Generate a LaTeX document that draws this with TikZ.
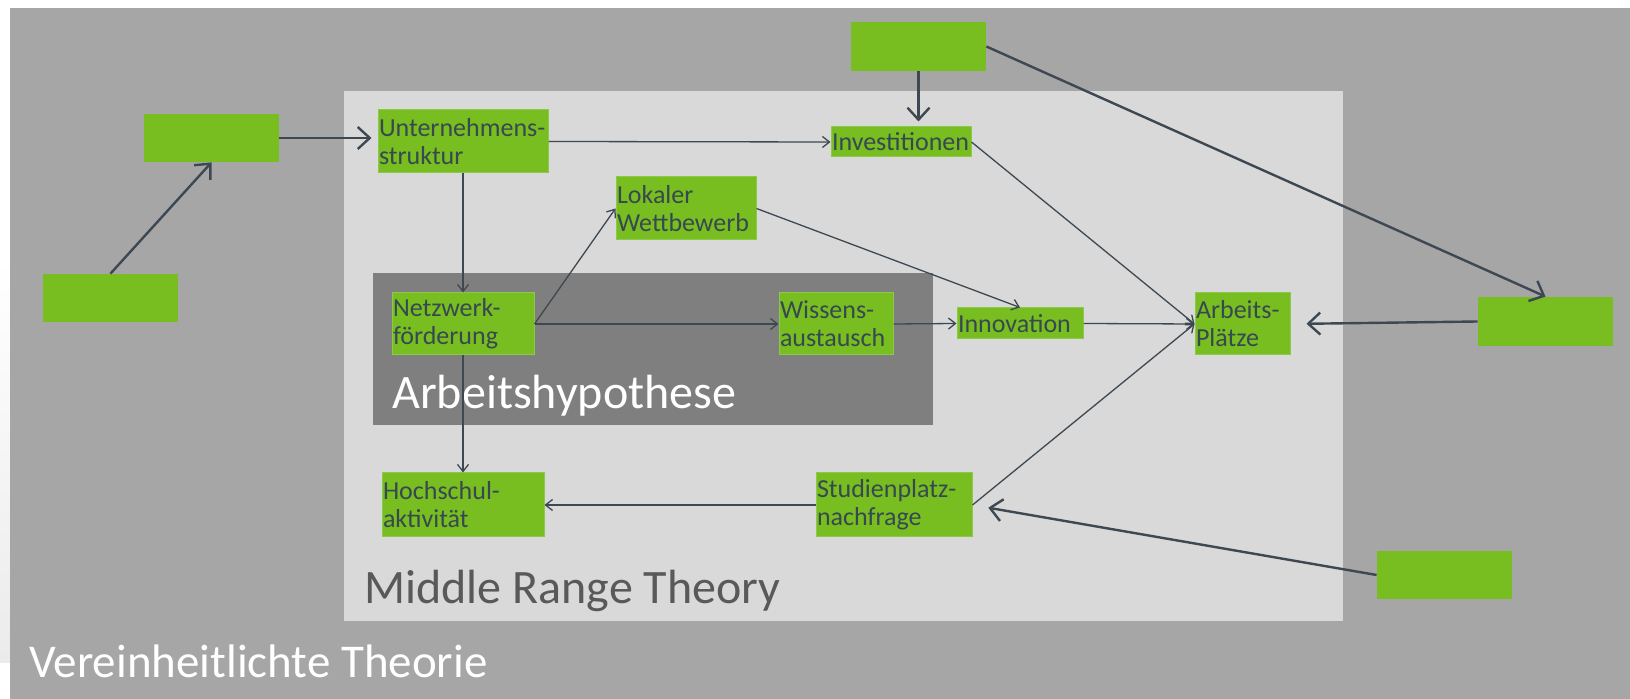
\documentclass[tikz,border=0pt]{standalone}
\usepackage{fontspec}
\setmainfont{Carlito}
\usetikzlibrary{arrows.meta}
\definecolor{outergray}{HTML}{A6A6A6}
\definecolor{midgray}{HTML}{D9D9D9}
\definecolor{hypgray}{HTML}{7F7F7F}
\definecolor{leaf}{HTML}{78BE20}
\definecolor{leafedge}{HTML}{8CC94A}
\definecolor{nodetext}{HTML}{374851}
\definecolor{linec}{HTML}{3D4852}
\definecolor{captiongray}{HTML}{595959}
\definecolor{stripgray}{HTML}{EBEBEB}
\begin{document}
\begin{tikzpicture}[x=0.5pt,y=-0.5pt,
  gbox/.style={rectangle, fill=leaf, draw=leafedge, line width=0.5pt,
    inner xsep=0.5pt, inner ysep=0pt, text=nodetext, align=left,
    font=\fontsize{13}{14}\selectfont},
  blank/.style={rectangle, fill=leaf, inner sep=0pt,
    minimum width=67.5pt, minimum height=24pt},
  thin/.style={draw=linec, line width=0.65pt,
    -{Straight Barb[length=3.5pt,width=5.5pt]}},
  thick/.style={draw=linec, line width=1.2pt,
    -{Straight Barb[length=6pt,width=11pt]}},
  caption/.style={anchor=base west, inner sep=0pt}]
\useasboundingbox (0,0) rectangle (1630,699);
% background layers
\fill[white] (0,0) rectangle (1630,699);
\shade[top color=white, bottom color=stripgray] (0,260) rectangle (10,663);
\fill[outergray] (10,8) rectangle (1630,699);
\fill[midgray] (344,91) rectangle (1343,621);
\fill[hypgray] (373,273) rectangle (933,425);

% frame captions
\node[caption, text=white, font=\fontsize{24}{28}\selectfont] (capH) at (392,409) {Arbeitshypothese};
\node[caption, text=captiongray, font=\fontsize{24}{28}\selectfont] (capM) at (364,604) {Middle Range Theory};
\node[caption, text=white, font=\fontsize{23.5}{28}\selectfont] (capV) at (29,678) {Vereinheitlichte Theorie};

% unlabeled outer factors
\node[blank] (bTL) at (211.5,138) {};
\node[blank] (bBL) at (110.5,298) {};
\node[blank, minimum height=24.5pt] (bTop) at (918.5,46.5) {};
\node[blank, minimum height=24.5pt] (bR) at (1545.5,321.5) {};
\node[blank] (bBR) at (1444.5,575) {};

% labeled factors
\node[gbox, minimum width=85pt, minimum height=31.5pt, text width=84pt] (U) at (463,141.5) {\mbox{Unternehmens-}\\struktur};
\node[gbox, minimum width=70pt, minimum height=15pt, text width=69pt] (Inv) at (901,142) {Investitionen};
\node[gbox, minimum width=70pt, minimum height=31.5pt, text width=69pt] (Lok) at (686,208.5) {Lokaler\\Wettbewerb};
\node[gbox, minimum width=71pt, minimum height=31pt, text width=70pt] (Netz) at (463,324) {\mbox{Netzwerk-}\\förderung};
\node[gbox, minimum width=57pt, minimum height=31pt, text width=56pt] (Wis) at (836,324) {\mbox{Wissens-}\\austausch};
\node[gbox, minimum width=63pt, minimum height=15.5pt, text width=62pt] (Inno) at (1020,323.5) {Innovation};
\node[gbox, minimum width=47.5pt, minimum height=31pt, text width=46.5pt] (AP) at (1242.5,324) {\mbox{Arbeits-}\\Plätze};
\node[gbox, minimum width=81pt, minimum height=32pt, text width=80pt] (Hoch) at (463,505) {\mbox{Hochschul-}\\aktivität};
\node[gbox, minimum width=78pt, minimum height=32pt, text width=77pt] (Stud) at (894,505) {\mbox{Studienplatz-}\\nachfrage};

% outer influences
\draw[thick] (bBL.north) -- (bTL.south);
\draw[thick, shorten >=3pt] (bTL.east) -- (bTL.east -| U.west);
\draw[thick, shorten >=2.5pt] (bTop.south) -- (bTop.south |- Inv.north);
\draw[thick] (bTop.east) -- (bR.north);
\draw[thick, shorten >=8pt] (bR.west) -- (AP.east);
\draw[thick, shorten >=8pt] (bBR.west) -- (Stud.east);

% inner relations
\draw[thin] (U.east) -- (Inv.west);
\draw[thin] (U.south) -- (Netz.north);
\draw[thin] (Inv.east) -- (AP.west);
\draw[thin] (Lok.east) -- (Inno.north);
\draw[thin] (Netz.east) -- (Lok.west);
\draw[thin] (Netz.east) -- (Wis.west);
\draw[thin] (Wis.east) -- (Inno.west);
\draw[thin] (Inno.east) -- (AP.west);
\draw[thin] (Stud.east) -- (AP.west);
\draw[thin] (Netz.south) -- (Hoch.north);
\draw[thin] (Stud.west) -- (Hoch.east);
\end{tikzpicture}
\end{document}
